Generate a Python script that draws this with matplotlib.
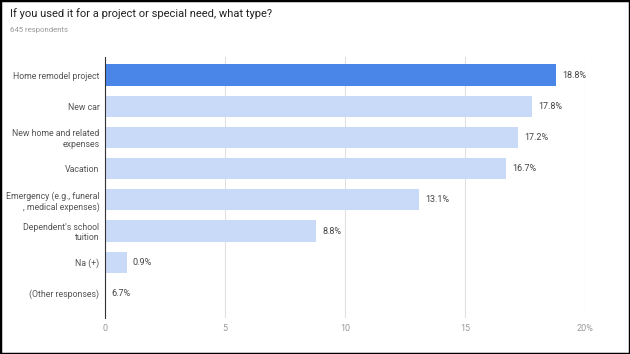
import matplotlib
matplotlib.use("Agg")
import matplotlib.pyplot as plt
from matplotlib.patches import Rectangle

plt.rcParams['font.family'] = ['Roboto', 'DejaVu Sans']

title = "If you used it for a project or special need, what type?"
subtitle = "645 respondents"
categories = ["Home remodel project", "New car", "New home and related\nexpenses", "Vacation",
              "Emergency (e.g., funeral\n, medical expenses)", "Dependent's school\ntuition",
              "Na (+)", "(Other responses)"]
values = [18.8, 17.8, 17.2, 16.7, 13.1, 8.8, 0.9, 0.0]
value_labels = ["18.8%", "17.8%", "17.2%", "16.7%", "13.1%", "8.8%", "0.9%", "6.7%"]
xticks = [0, 5, 10, 15, 20]
xtick_labels = ["0", "5", "10", "15", "20%"]
highlight = 0

fig = plt.figure(figsize=(6.3, 3.54), dpi=100)
ax = fig.add_axes([105/630, 1-318/354, 480/630, (318-57)/354])

colors = ["#4a86e8" if i == highlight else "#c9daf8" for i in range(len(values))]
y = list(range(len(values)))
ax.barh(y, values, height=0.68, color=colors, zorder=2)
ax.set_ylim(7.79, -0.58)
ax.set_xlim(0, 20)
ax.set_xticks(xticks)
ax.set_xticklabels(xtick_labels, color="#999999", fontsize=6.5)
ax.set_yticks(y)
ax.set_yticklabels(categories, color="#555555", fontsize=6.3, linespacing=1.15)
ax.tick_params(axis='both', length=0)
ax.tick_params(axis='x', pad=4)
ax.tick_params(axis='y', pad=4)
ax.grid(axis='x', color="#e0e0e0", linewidth=0.8, zorder=0)
for s in ['top', 'right', 'bottom']:
    ax.spines[s].set_visible(False)
ax.spines['left'].set_color("#333333")
ax.spines['left'].set_linewidth(0.8)
ax.spines['left'].set_zorder(3)

for yi, v, lab in zip(y, values, value_labels):
    ax.annotate(lab, xy=(v, yi), xytext=(4.5, 0), textcoords='offset points',
                va='center', ha='left', fontsize=6.5, color="#444444")

fig.text(10/630, 1-14/354, title, fontsize=8, color="#222222", va='center', ha='left')
fig.text(10/630, 1-30/354, subtitle, fontsize=5.6, color="#999999", va='center', ha='left')

fig.patches.append(Rectangle((0, 0), 1, 1, transform=fig.transFigure, fill=False,
                             edgecolor="black", linewidth=2.5, zorder=10))

fig.savefig("out.png", dpi=100)
